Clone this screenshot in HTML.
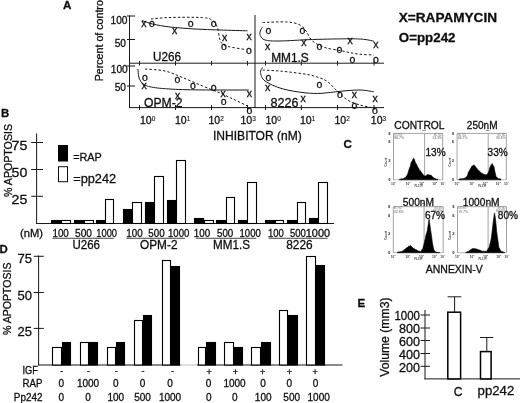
<!DOCTYPE html>
<html><head><meta charset="utf-8"><title>Figure</title>
<style>html,body{margin:0;padding:0;background:#fff}svg{display:block}</style></head>
<body>
<svg width="520" height="403" viewBox="0 0 520 403" font-family='"Liberation Sans", sans-serif'>
<rect width="520" height="403" fill="#fff"/>
<defs><filter id="soft" x="0" y="0" width="520" height="403" filterUnits="userSpaceOnUse"><feGaussianBlur stdDeviation="0.32"/></filter></defs>
<g filter="url(#soft)">
<text x="63.1" y="9.4" font-size="11.6" font-weight="bold" fill="#111" stroke="#111" stroke-width="0.3">A</text>
<text transform="translate(102.6 81.3) scale(1.0 1) rotate(-90)" font-size="10.6" textLength="83.5" lengthAdjust="spacingAndGlyphs" fill="#111" stroke="#111" stroke-width="0.3">Percent of control</text>
<line x1="129.5" y1="15.5" x2="129.5" y2="108" stroke="#1a1a1a" stroke-width="1"/>
<line x1="129.5" y1="63.2" x2="384" y2="63.2" stroke="#1a1a1a" stroke-width="1"/>
<line x1="129.5" y1="107.6" x2="384" y2="107.6" stroke="#1a1a1a" stroke-width="1"/>
<line x1="255" y1="15" x2="255" y2="108" stroke="#1a1a1a" stroke-width="1"/>
<line x1="127" y1="16" x2="135" y2="16" stroke="#1a1a1a" stroke-width="1"/>
<line x1="127" y1="39.5" x2="135" y2="39.5" stroke="#1a1a1a" stroke-width="1"/>
<line x1="127" y1="66" x2="135" y2="66" stroke="#1a1a1a" stroke-width="1"/>
<line x1="127" y1="86" x2="135" y2="86" stroke="#1a1a1a" stroke-width="1"/>
<line x1="139.5" y1="61" x2="139.5" y2="65.5" stroke="#1a1a1a" stroke-width="1"/>
<line x1="139.5" y1="105" x2="139.5" y2="110" stroke="#1a1a1a" stroke-width="1"/>
<line x1="175.5" y1="61" x2="175.5" y2="65.5" stroke="#1a1a1a" stroke-width="1"/>
<line x1="175.5" y1="105" x2="175.5" y2="110" stroke="#1a1a1a" stroke-width="1"/>
<line x1="211.5" y1="61" x2="211.5" y2="65.5" stroke="#1a1a1a" stroke-width="1"/>
<line x1="211.5" y1="105" x2="211.5" y2="110" stroke="#1a1a1a" stroke-width="1"/>
<line x1="247.5" y1="61" x2="247.5" y2="65.5" stroke="#1a1a1a" stroke-width="1"/>
<line x1="247.5" y1="105" x2="247.5" y2="110" stroke="#1a1a1a" stroke-width="1"/>
<line x1="265.5" y1="61" x2="265.5" y2="65.5" stroke="#1a1a1a" stroke-width="1"/>
<line x1="265.5" y1="105" x2="265.5" y2="110" stroke="#1a1a1a" stroke-width="1"/>
<line x1="301.3" y1="61" x2="301.3" y2="65.5" stroke="#1a1a1a" stroke-width="1"/>
<line x1="301.3" y1="105" x2="301.3" y2="110" stroke="#1a1a1a" stroke-width="1"/>
<line x1="337.5" y1="61" x2="337.5" y2="65.5" stroke="#1a1a1a" stroke-width="1"/>
<line x1="337.5" y1="105" x2="337.5" y2="110" stroke="#1a1a1a" stroke-width="1"/>
<line x1="374" y1="61" x2="374" y2="65.5" stroke="#1a1a1a" stroke-width="1"/>
<line x1="374" y1="105" x2="374" y2="110" stroke="#1a1a1a" stroke-width="1"/>
<text x="127.5" y="24" font-size="10.5" text-anchor="end" textLength="17" lengthAdjust="spacingAndGlyphs" fill="#111" stroke="#111" stroke-width="0.3">100</text>
<text x="126" y="46.9" font-size="10.5" text-anchor="end" textLength="11.3" lengthAdjust="spacingAndGlyphs" fill="#111" stroke="#111" stroke-width="0.3">50</text>
<text x="127.8" y="72.8" font-size="10.5" text-anchor="end" textLength="17" lengthAdjust="spacingAndGlyphs" fill="#111" stroke="#111" stroke-width="0.3">100</text>
<text x="126" y="91.3" font-size="10.5" text-anchor="end" textLength="11.3" lengthAdjust="spacingAndGlyphs" fill="#111" stroke="#111" stroke-width="0.3">50</text>
<text x="140.0" y="124.3" font-size="10.5" fill="#111" stroke="#111" stroke-width="0.3">10<tspan font-size="6.5" dy="-2.9" stroke-width="0.1">0</tspan></text>
<text x="175.0" y="124.3" font-size="10.5" fill="#111" stroke="#111" stroke-width="0.3">10<tspan font-size="6.5" dy="-2.9" stroke-width="0.1">1</tspan></text>
<text x="208.5" y="124.3" font-size="10.5" fill="#111" stroke="#111" stroke-width="0.3">10<tspan font-size="6.5" dy="-2.9" stroke-width="0.1">2</tspan></text>
<text x="240.5" y="124.3" font-size="10.5" fill="#111" stroke="#111" stroke-width="0.3">10<tspan font-size="6.5" dy="-2.9" stroke-width="0.1">3</tspan></text>
<text x="265.5" y="124.3" font-size="10.5" fill="#111" stroke="#111" stroke-width="0.3">10<tspan font-size="6.5" dy="-2.9" stroke-width="0.1">0</tspan></text>
<text x="300.0" y="124.3" font-size="10.5" fill="#111" stroke="#111" stroke-width="0.3">10<tspan font-size="6.5" dy="-2.9" stroke-width="0.1">1</tspan></text>
<text x="334.5" y="124.3" font-size="10.5" fill="#111" stroke="#111" stroke-width="0.3">10<tspan font-size="6.5" dy="-2.9" stroke-width="0.1">2</tspan></text>
<text x="370.8" y="124.3" font-size="10.5" fill="#111" stroke="#111" stroke-width="0.3">10<tspan font-size="6.5" dy="-2.9" stroke-width="0.1">3</tspan></text>
<text x="213" y="139.7" font-size="12" textLength="88.8" lengthAdjust="spacingAndGlyphs" fill="#111" stroke="#111" stroke-width="0.3">INHIBITOR (nM)</text>
<text x="153" y="61.3" font-size="12" textLength="28" lengthAdjust="spacingAndGlyphs" fill="#111" stroke="#111" stroke-width="0.3">U266</text>
<text x="144" y="107.3" font-size="12" textLength="38.5" lengthAdjust="spacingAndGlyphs" fill="#111" stroke="#111" stroke-width="0.3">OPM-2</text>
<text x="271.2" y="61.7" font-size="12" textLength="37.6" lengthAdjust="spacingAndGlyphs" fill="#111" stroke="#111" stroke-width="0.3">MM1.S</text>
<text x="270.5" y="107.3" font-size="12" textLength="28" lengthAdjust="spacingAndGlyphs" fill="#111" stroke="#111" stroke-width="0.3">8226</text>
<path d="M142 20.5 C143.75 21.08 147.83 22.92 152.5 24 C157.17 25.08 162.92 26.17 170 27 C177.08 27.83 186.67 28.50 195 29 C203.33 29.50 211.25 29.70 220 30 C228.75 30.30 242.92 30.67 247.5 30.8" fill="none" stroke="#1a1a1a" stroke-width="1"/>
<path d="M151 19 C154.17 18.75 161.42 17.73 170 17.5 C178.58 17.27 195.42 17.10 202.5 17.6 C209.58 18.10 210.00 18.85 212.5 20.5 C215.00 22.15 216.33 24.58 217.5 27.5 C218.67 30.42 218.75 35.33 219.5 38 C220.25 40.67 220.58 42.08 222 43.5 C223.42 44.92 224.17 45.50 228 46.5 C231.83 47.50 242.17 49.00 245 49.5" fill="none" stroke="#1a1a1a" stroke-width="1" stroke-dasharray="2.5 2"/>
<text x="143.75" y="27.05" font-size="10.5" text-anchor="middle" fill="#111" stroke="#111" stroke-width="0.3">x</text>
<text x="174.5" y="33.8" font-size="10.5" text-anchor="middle" fill="#111" stroke="#111" stroke-width="0.3">x</text>
<text x="224.5" y="41.3" font-size="10.5" text-anchor="middle" fill="#111" stroke="#111" stroke-width="0.3">x</text>
<text x="249" y="40.3" font-size="10.5" text-anchor="middle" fill="#111" stroke="#111" stroke-width="0.3">x</text>
<text x="152" y="27.05" font-size="10.5" text-anchor="middle" fill="#111" stroke="#111" stroke-width="0.3">o</text>
<text x="190.75" y="27.3" font-size="10.5" text-anchor="middle" fill="#111" stroke="#111" stroke-width="0.3">o</text>
<text x="213.75" y="27.3" font-size="10.5" text-anchor="middle" fill="#111" stroke="#111" stroke-width="0.3">o</text>
<text x="224" y="49.8" font-size="10.5" text-anchor="middle" fill="#111" stroke="#111" stroke-width="0.3">o</text>
<text x="249" y="54.3" font-size="10.5" text-anchor="middle" fill="#111" stroke="#111" stroke-width="0.3">o</text>
<path d="M138 69 C138.10 70.17 138.18 74.00 138.6 76 C139.02 78.00 139.43 79.47 140.5 81 C141.57 82.53 142.17 84.03 145 85.2 C147.83 86.37 151.25 87.27 157.5 88 C163.75 88.73 172.92 89.27 182.5 89.6 C192.08 89.93 203.95 89.93 215 90 C226.05 90.07 243.17 90.00 248.8 90" fill="none" stroke="#1a1a1a" stroke-width="1"/>
<path d="M145 69 C148.33 69.33 158.75 69.58 165 71 C171.25 72.42 176.25 75.00 182.5 77.5 C188.75 80.00 196.25 83.42 202.5 86 C208.75 88.58 214.58 90.67 220 93 C225.42 95.33 230.42 97.83 235 100 C239.58 102.17 245.42 105.00 247.5 106" fill="none" stroke="#1a1a1a" stroke-width="1" stroke-dasharray="2.5 2"/>
<text x="144" y="89.3" font-size="10.5" text-anchor="middle" fill="#111" stroke="#111" stroke-width="0.3">x</text>
<text x="177.5" y="99.3" font-size="10.5" text-anchor="middle" fill="#111" stroke="#111" stroke-width="0.3">x</text>
<text x="223" y="96.6" font-size="10.5" text-anchor="middle" fill="#111" stroke="#111" stroke-width="0.3">x</text>
<text x="249.3" y="97.1" font-size="10.5" text-anchor="middle" fill="#111" stroke="#111" stroke-width="0.3">x</text>
<text x="145" y="81.3" font-size="10.5" text-anchor="middle" fill="#111" stroke="#111" stroke-width="0.3">o</text>
<text x="177.5" y="83.3" font-size="10.5" text-anchor="middle" fill="#111" stroke="#111" stroke-width="0.3">o</text>
<text x="193" y="88.8" font-size="10.5" text-anchor="middle" fill="#111" stroke="#111" stroke-width="0.3">o</text>
<text x="213.75" y="90.8" font-size="10.5" text-anchor="middle" fill="#111" stroke="#111" stroke-width="0.3">o</text>
<text x="223.75" y="104.6" font-size="10.5" text-anchor="middle" fill="#111" stroke="#111" stroke-width="0.3">o</text>
<text x="249.5" y="113.8" font-size="10.5" text-anchor="middle" fill="#111" stroke="#111" stroke-width="0.3">o</text>
<path d="M262.5 27 C262.13 27.67 260.67 29.58 260.3 31 C259.93 32.42 259.52 34.00 260.3 35.5 C261.08 37.00 261.72 39.08 265 40 C268.28 40.92 272.08 41.08 280 41 C287.92 40.92 300.83 39.87 312.5 39.5 C324.17 39.13 341.25 38.80 350 38.8 C358.75 38.80 361.03 39.10 365 39.5 C368.97 39.90 372.33 40.92 373.8 41.2" fill="none" stroke="#1a1a1a" stroke-width="1"/>
<path d="M262.5 22.5 C266.67 22.42 281.25 21.58 287.5 22 C293.75 22.42 296.92 23.50 300 25 C303.08 26.50 303.92 28.33 306 31 C308.08 33.67 309.33 38.25 312.5 41 C315.67 43.75 320.00 45.83 325 47.5 C330.00 49.17 337.08 49.92 342.5 51 C347.92 52.08 352.28 53.33 357.5 54 C362.72 54.67 371.08 54.83 373.8 55" fill="none" stroke="#1a1a1a" stroke-width="1" stroke-dasharray="2.5 2"/>
<text x="267.5" y="50.099999999999994" font-size="10.5" text-anchor="middle" fill="#111" stroke="#111" stroke-width="0.3">x</text>
<text x="303.8" y="45.8" font-size="10.5" text-anchor="middle" fill="#111" stroke="#111" stroke-width="0.3">x</text>
<text x="350" y="43.8" font-size="10.5" text-anchor="middle" fill="#111" stroke="#111" stroke-width="0.3">x</text>
<text x="375.8" y="48.3" font-size="10.5" text-anchor="middle" fill="#111" stroke="#111" stroke-width="0.3">x</text>
<text x="268.3" y="33.8" font-size="10.5" text-anchor="middle" fill="#111" stroke="#111" stroke-width="0.3">o</text>
<text x="302.5" y="33.8" font-size="10.5" text-anchor="middle" fill="#111" stroke="#111" stroke-width="0.3">o</text>
<text x="319.5" y="50.099999999999994" font-size="10.5" text-anchor="middle" fill="#111" stroke="#111" stroke-width="0.3">o</text>
<text x="339.5" y="52.8" font-size="10.5" text-anchor="middle" fill="#111" stroke="#111" stroke-width="0.3">o</text>
<text x="352.5" y="62.599999999999994" font-size="10.5" text-anchor="middle" fill="#111" stroke="#111" stroke-width="0.3">o</text>
<text x="375.8" y="63.3" font-size="10.5" text-anchor="middle" fill="#111" stroke="#111" stroke-width="0.3">o</text>
<path d="M262.5 67.5 C262.17 68.33 260.08 70.25 260.5 72.5 C260.92 74.75 261.33 78.28 265 81 C268.67 83.72 275.83 86.83 282.5 88.8 C289.17 90.77 298.42 92.05 305 92.8 C311.58 93.55 316.17 93.55 322 93.3 C327.83 93.05 333.67 91.85 340 91.3 C346.33 90.75 354.37 89.92 360 90 C365.63 90.08 371.50 91.50 373.8 91.8" fill="none" stroke="#1a1a1a" stroke-width="1"/>
<path d="M262.5 70 C265.83 70.22 275.00 70.55 282.5 71.3 C290.00 72.05 301.25 73.38 307.5 74.5 C313.75 75.62 316.58 76.75 320 78 C323.42 79.25 325.08 79.78 328 82 C330.92 84.22 334.25 88.30 337.5 91.3 C340.75 94.30 343.75 97.72 347.5 100 C351.25 102.28 355.62 103.67 360 105 C364.38 106.33 371.50 107.50 373.8 108" fill="none" stroke="#1a1a1a" stroke-width="1" stroke-dasharray="2.5 2"/>
<text x="267.5" y="90.8" font-size="10.5" text-anchor="middle" fill="#111" stroke="#111" stroke-width="0.3">x</text>
<text x="303" y="102.1" font-size="10.5" text-anchor="middle" fill="#111" stroke="#111" stroke-width="0.3">x</text>
<text x="354.3" y="97.6" font-size="10.5" text-anchor="middle" fill="#111" stroke="#111" stroke-width="0.3">x</text>
<text x="375" y="102.1" font-size="10.5" text-anchor="middle" fill="#111" stroke="#111" stroke-width="0.3">x</text>
<text x="268.5" y="81.3" font-size="10.5" text-anchor="middle" fill="#111" stroke="#111" stroke-width="0.3">o</text>
<text x="319.3" y="87.8" font-size="10.5" text-anchor="middle" fill="#111" stroke="#111" stroke-width="0.3">o</text>
<text x="340" y="98.3" font-size="10.5" text-anchor="middle" fill="#111" stroke="#111" stroke-width="0.3">o</text>
<text x="354.3" y="109.1" font-size="10.5" text-anchor="middle" fill="#111" stroke="#111" stroke-width="0.3">o</text>
<text x="375" y="114.1" font-size="10.5" text-anchor="middle" fill="#111" stroke="#111" stroke-width="0.3">o</text>
<text x="398.8" y="22.2" font-size="12.5" font-weight="bold" textLength="98.2" lengthAdjust="spacingAndGlyphs" fill="#111" stroke="#111" stroke-width="0.3">X=RAPAMYCIN</text>
<text x="398.8" y="42.2" font-size="13" font-weight="bold" textLength="56.7" lengthAdjust="spacingAndGlyphs" fill="#111" stroke="#111" stroke-width="0.3">O=pp242</text>
<text x="0.9" y="117" font-size="11.4" font-weight="bold" fill="#111" stroke="#111" stroke-width="0.3">B</text>
<text transform="translate(11.6 197) scale(1.0 1) rotate(-90)" font-size="10.6" textLength="73" lengthAdjust="spacingAndGlyphs" fill="#111" stroke="#111" stroke-width="0.3">% APOPTOSIS</text>
<line x1="36.6" y1="133.5" x2="36.6" y2="224" stroke="#1a1a1a" stroke-width="1"/>
<line x1="36.1" y1="223.5" x2="334" y2="223.5" stroke="#1a1a1a" stroke-width="1"/>
<line x1="31.2" y1="142.5" x2="43" y2="142.5" stroke="#1a1a1a" stroke-width="1"/>
<line x1="31.2" y1="169.5" x2="43" y2="169.5" stroke="#1a1a1a" stroke-width="1"/>
<line x1="31.2" y1="196.3" x2="43" y2="196.3" stroke="#1a1a1a" stroke-width="1"/>
<text x="27.4" y="149.7" font-size="12.6" text-anchor="end" textLength="15.8" lengthAdjust="spacingAndGlyphs" fill="#111" stroke="#111" stroke-width="0.3">75</text>
<text x="27.4" y="176.8" font-size="12.6" text-anchor="end" textLength="15.8" lengthAdjust="spacingAndGlyphs" fill="#111" stroke="#111" stroke-width="0.3">50</text>
<text x="27.4" y="203.8" font-size="12.6" text-anchor="end" textLength="15.8" lengthAdjust="spacingAndGlyphs" fill="#111" stroke="#111" stroke-width="0.3">25</text>
<rect x="58.5" y="145.5" width="9" height="15.5" fill="#000" stroke="#000" stroke-width="1"/>
<rect x="58.5" y="166.7" width="9" height="15" fill="#fff" stroke="#111" stroke-width="1"/>
<text x="73.2" y="161.2" font-size="10" textLength="28.6" lengthAdjust="spacingAndGlyphs" fill="#111" stroke="#111" stroke-width="0.3">=RAP</text>
<text x="73.2" y="182.5" font-size="13" textLength="43" lengthAdjust="spacingAndGlyphs" fill="#111" stroke="#111" stroke-width="0.3">=pp242</text>
<rect x="51.5" y="220.5" width="9" height="3.0" fill="#000" stroke="#000" stroke-width="1.1"/>
<rect x="61.5" y="220.5" width="9" height="3.0" fill="#fff" stroke="#000" stroke-width="1.1"/>
<rect x="74.5" y="220.5" width="9" height="3.0" fill="#000" stroke="#000" stroke-width="1.1"/>
<rect x="84.5" y="220.5" width="9" height="3.0" fill="#fff" stroke="#000" stroke-width="1.1"/>
<rect x="96.5" y="220.5" width="8" height="3.0" fill="#000" stroke="#000" stroke-width="1.1"/>
<rect x="105.5" y="199.5" width="8" height="24.0" fill="#fff" stroke="#000" stroke-width="1.1"/>
<rect x="123.5" y="209.5" width="8" height="14.0" fill="#000" stroke="#000" stroke-width="1.1"/>
<rect x="132.5" y="202.5" width="9" height="21.0" fill="#fff" stroke="#000" stroke-width="1.1"/>
<rect x="145.5" y="202.5" width="8" height="21.0" fill="#000" stroke="#000" stroke-width="1.1"/>
<rect x="154.5" y="176.5" width="9" height="47.0" fill="#fff" stroke="#000" stroke-width="1.1"/>
<rect x="167.5" y="200.5" width="8" height="23.0" fill="#000" stroke="#000" stroke-width="1.1"/>
<rect x="176.5" y="160.5" width="9" height="63.0" fill="#fff" stroke="#000" stroke-width="1.1"/>
<rect x="194.5" y="218.5" width="9" height="5.0" fill="#000" stroke="#000" stroke-width="1.1"/>
<rect x="204.5" y="220.5" width="9" height="3.0" fill="#fff" stroke="#000" stroke-width="1.1"/>
<rect x="216.5" y="220.5" width="9" height="3.0" fill="#000" stroke="#000" stroke-width="1.1"/>
<rect x="226.5" y="197.5" width="8" height="26.0" fill="#fff" stroke="#000" stroke-width="1.1"/>
<rect x="238.5" y="220.5" width="8" height="3.0" fill="#000" stroke="#000" stroke-width="1.1"/>
<rect x="247.5" y="182.5" width="9" height="41.0" fill="#fff" stroke="#000" stroke-width="1.1"/>
<rect x="265.5" y="220.5" width="9" height="3.0" fill="#000" stroke="#000" stroke-width="1.1"/>
<rect x="275.5" y="220.5" width="8" height="3.0" fill="#fff" stroke="#000" stroke-width="1.1"/>
<rect x="287.5" y="220.5" width="9" height="3.0" fill="#000" stroke="#000" stroke-width="1.1"/>
<rect x="297.5" y="202.5" width="8" height="21.0" fill="#fff" stroke="#000" stroke-width="1.1"/>
<rect x="309.5" y="218.5" width="8" height="5.0" fill="#000" stroke="#000" stroke-width="1.1"/>
<rect x="318.5" y="182.5" width="9" height="41.0" fill="#fff" stroke="#000" stroke-width="1.1"/>
<text x="20" y="237.2" font-size="11" textLength="23" lengthAdjust="spacingAndGlyphs" fill="#111" stroke="#111" stroke-width="0.3">(nM)</text>
<text x="52.5" y="237" font-size="10" textLength="16.3" lengthAdjust="spacingAndGlyphs" fill="#111" stroke="#111" stroke-width="0.3">100</text>
<text x="75" y="237" font-size="10" textLength="17" lengthAdjust="spacingAndGlyphs" fill="#111" stroke="#111" stroke-width="0.3">500</text>
<text x="96.3" y="237" font-size="10" textLength="20.7" lengthAdjust="spacingAndGlyphs" fill="#111" stroke="#111" stroke-width="0.3">1000</text>
<text x="126.3" y="237" font-size="10" textLength="16.3" lengthAdjust="spacingAndGlyphs" fill="#111" stroke="#111" stroke-width="0.3">100</text>
<text x="148.3" y="237" font-size="10" textLength="16.3" lengthAdjust="spacingAndGlyphs" fill="#111" stroke="#111" stroke-width="0.3">500</text>
<text x="168" y="237" font-size="10" textLength="21.3" lengthAdjust="spacingAndGlyphs" fill="#111" stroke="#111" stroke-width="0.3">1000</text>
<text x="193.8" y="237" font-size="10" textLength="16.3" lengthAdjust="spacingAndGlyphs" fill="#111" stroke="#111" stroke-width="0.3">100</text>
<text x="217" y="237" font-size="10" textLength="16.3" lengthAdjust="spacingAndGlyphs" fill="#111" stroke="#111" stroke-width="0.3">500</text>
<text x="239.5" y="237" font-size="10" textLength="21.3" lengthAdjust="spacingAndGlyphs" fill="#111" stroke="#111" stroke-width="0.3">1000</text>
<text x="268" y="237" font-size="10" textLength="15.8" lengthAdjust="spacingAndGlyphs" fill="#111" stroke="#111" stroke-width="0.3">100</text>
<text x="290" y="237" font-size="10" textLength="15.8" lengthAdjust="spacingAndGlyphs" fill="#111" stroke="#111" stroke-width="0.3">500</text>
<text x="305.8" y="237" font-size="10" textLength="24.2" lengthAdjust="spacingAndGlyphs" fill="#111" stroke="#111" stroke-width="0.3">1000</text>
<line x1="52.5" y1="238.3" x2="113.8" y2="238.3" stroke="#1a1a1a" stroke-width="0.8"/>
<line x1="126.3" y1="238.3" x2="185" y2="238.3" stroke="#1a1a1a" stroke-width="0.8"/>
<line x1="196.3" y1="238.3" x2="256.3" y2="238.3" stroke="#1a1a1a" stroke-width="0.8"/>
<line x1="268.8" y1="238.3" x2="327.5" y2="238.3" stroke="#1a1a1a" stroke-width="0.8"/>
<text x="72.5" y="248.8" font-size="12" textLength="27.5" lengthAdjust="spacingAndGlyphs" fill="#111" stroke="#111" stroke-width="0.3">U266</text>
<text x="140" y="248.8" font-size="12" textLength="37.5" lengthAdjust="spacingAndGlyphs" fill="#111" stroke="#111" stroke-width="0.3">OPM-2</text>
<text x="213" y="248.8" font-size="12" textLength="37" lengthAdjust="spacingAndGlyphs" fill="#111" stroke="#111" stroke-width="0.3">MM1.S</text>
<text x="286.3" y="248.8" font-size="12" textLength="26.3" lengthAdjust="spacingAndGlyphs" fill="#111" stroke="#111" stroke-width="0.3">8226</text>
<text x="343.6" y="147.9" font-size="11.6" font-weight="bold" fill="#111" stroke="#111" stroke-width="0.3">C</text>
<text x="394.3" y="128.6" font-size="10.5" textLength="50.2" lengthAdjust="spacingAndGlyphs" fill="#111" stroke="#111" stroke-width="0.3">CONTROL</text>
<text x="466.8" y="128.6" font-size="10.5" textLength="30.7" lengthAdjust="spacingAndGlyphs" fill="#111" stroke="#111" stroke-width="0.3">250nM</text>
<text x="402.8" y="205.6" font-size="10.5" textLength="31.2" lengthAdjust="spacingAndGlyphs" fill="#111" stroke="#111" stroke-width="0.3">500nM</text>
<text x="462.8" y="205.6" font-size="10.5" textLength="36.7" lengthAdjust="spacingAndGlyphs" fill="#111" stroke="#111" stroke-width="0.3">1000nM</text>
<text x="425.8" y="273.2" font-size="10.5" textLength="57" lengthAdjust="spacingAndGlyphs" fill="#111" stroke="#111" stroke-width="0.3">ANNEXIN-V</text>
<line x1="393.5" y1="133.4" x2="442.7" y2="133.4" stroke="#9a9a9a" stroke-width="0.9"/>
<line x1="393.5" y1="133.4" x2="393.5" y2="180" stroke="#9a9a9a" stroke-width="0.9"/>
<line x1="442.7" y1="133.4" x2="442.7" y2="180" stroke="#9a9a9a" stroke-width="0.9"/>
<line x1="424.6" y1="133.4" x2="424.6" y2="180" stroke="#9a9a9a" stroke-width="0.9"/>
<line x1="393.5" y1="179.8" x2="442.7" y2="179.8" stroke="#888" stroke-width="0.6"/>
<path d="M399.50 179.20 L400.20 179.13 L400.90 178.97 L401.60 178.87 L402.30 178.83 L403.00 178.70 L403.62 178.38 L404.25 178.06 L404.88 177.69 L405.50 177.40 L406.20 176.24 L406.90 175.58 L407.60 174.30 L408.60 170.80 L409.80 167.20 L410.40 166.34 L411.00 162.85 L411.60 161.80 L412.50 160.18 L413.40 158.20 L414.10 158.66 L414.80 160.60 L415.50 163.32 L416.20 163.60 L417.40 166.30 L418.00 167.43 L418.60 168.02 L419.20 169.40 L419.80 170.65 L420.40 170.68 L421.00 172.10 L421.80 172.68 L422.60 174.00 L423.35 175.12 L424.10 175.60 L424.75 176.05 L425.40 176.00 L426.10 175.58 L426.80 175.20 L427.45 174.50 L428.10 174.40 L428.73 174.65 L429.37 174.93 L430.00 174.90 L430.85 175.35 L431.70 175.70 L432.43 176.64 L433.17 177.26 L433.90 177.90 L434.63 178.31 L435.37 178.70 L436.10 179.10 L436.73 179.18 L437.37 179.25 L438.00 179.30 L438.00 179.8 L399.50 179.8 Z" fill="#000" stroke="#000" stroke-width="0.6" stroke-linejoin="round"/>
<text x="425.5" y="155.8" font-size="10" textLength="20.2" lengthAdjust="spacingAndGlyphs" fill="#111" stroke="#111" stroke-width="0.3">13%</text>
<text x="394.3" y="136.1" font-size="2.6" fill="#777" stroke="#777" stroke-width="0">M1 M2</text>
<text x="394.3" y="139.20000000000002" font-size="3.4" fill="#5a5a5a" stroke="#5a5a5a" stroke-width="0">86.7%</text>
<text x="441.9" y="136.0" font-size="2.6" text-anchor="end" fill="#777" stroke="#777" stroke-width="0">M1 M2</text>
<text x="441.9" y="138.9" font-size="3.4" text-anchor="end" fill="#5a5a5a" stroke="#5a5a5a" stroke-width="0">13.3%</text>
<text x="422.40000000000003" y="130.9" font-size="2.4" font-weight="bold" fill="#333" stroke="#333" stroke-width="0">M1</text>
<text x="390.3" y="134.70000000000002" font-size="3.4" text-anchor="end" font-weight="bold" fill="#444" stroke="#444" stroke-width="0.15">8</text>
<text x="390.3" y="143.4" font-size="3.4" text-anchor="end" font-weight="bold" fill="#444" stroke="#444" stroke-width="0.15">6</text>
<text x="390.3" y="162.0" font-size="3.4" text-anchor="end" font-weight="bold" fill="#444" stroke="#444" stroke-width="0.15">2</text>
<text x="390.3" y="180.6" font-size="3.4" text-anchor="end" font-weight="bold" fill="#444" stroke="#444" stroke-width="0.15">0</text>
<text transform="translate(387.3 166.4) rotate(-90)" font-size="3" fill="#444" font-weight="bold">Count</text>
<text x="393.5" y="184.6" font-size="3.2" text-anchor="middle" fill="#444" font-weight="bold">10<tspan font-size="2.4" dy="-1.2">0</tspan></text>
<text x="408.1" y="184.6" font-size="3.2" text-anchor="middle" fill="#444" font-weight="bold">10<tspan font-size="2.4" dy="-1.2">1</tspan></text>
<text x="421.7" y="184.6" font-size="3.2" text-anchor="middle" fill="#444" font-weight="bold">10<tspan font-size="2.4" dy="-1.2">2</tspan></text>
<text x="434.7" y="184.6" font-size="3.2" text-anchor="middle" fill="#444" font-weight="bold">10<tspan font-size="2.4" dy="-1.2">3</tspan></text>
<text x="442.9" y="184.6" font-size="3.2" text-anchor="middle" fill="#444" font-weight="bold">10<tspan font-size="2.4" dy="-1.2">4</tspan></text>
<text x="418.5" y="187.4" font-size="2.8" text-anchor="middle" font-weight="bold" fill="#444" stroke="#444" stroke-width="0">FL1-H</text>
<line x1="457.1" y1="133.4" x2="506.3" y2="133.4" stroke="#9a9a9a" stroke-width="0.9"/>
<line x1="457.1" y1="133.4" x2="457.1" y2="180" stroke="#9a9a9a" stroke-width="0.9"/>
<line x1="506.3" y1="133.4" x2="506.3" y2="180" stroke="#9a9a9a" stroke-width="0.9"/>
<line x1="488.2" y1="133.4" x2="488.2" y2="180" stroke="#9a9a9a" stroke-width="0.9"/>
<line x1="457.1" y1="179.8" x2="506.3" y2="179.8" stroke="#888" stroke-width="0.6"/>
<path d="M459.00 179.00 L459.62 178.90 L460.25 178.83 L460.88 178.86 L461.50 178.80 L462.12 178.64 L462.75 178.59 L463.38 178.54 L464.00 178.50 L464.60 178.14 L465.20 177.67 L465.80 177.27 L466.40 176.87 L467.00 176.50 L467.75 174.51 L468.50 172.00 L469.12 171.08 L469.75 170.14 L470.38 168.67 L471.00 168.00 L471.60 166.48 L472.20 165.85 L472.80 166.00 L474.00 164.80 L475.00 166.00 L476.00 167.50 L476.60 168.03 L477.20 168.78 L477.80 169.63 L478.40 170.53 L479.00 170.50 L479.60 171.66 L480.20 171.74 L480.80 172.49 L481.40 173.01 L482.00 173.50 L482.62 173.43 L483.25 173.98 L483.88 174.20 L484.50 174.50 L485.10 174.63 L485.70 174.73 L486.30 174.45 L486.90 174.53 L487.50 174.20 L488.25 172.59 L489.00 171.00 L489.75 167.73 L490.50 166.00 L491.35 164.39 L492.20 163.50 L493.00 165.41 L493.80 166.00 L495.00 172.00 L496.00 176.50 L496.67 177.03 L497.33 177.76 L498.00 178.50 L498.60 178.59 L499.20 178.69 L499.80 178.83 L500.40 178.95 L501.00 179.10 L501.00 179.8 L459.00 179.8 Z" fill="#000" stroke="#000" stroke-width="0.6" stroke-linejoin="round"/>
<text x="487.6" y="156" font-size="10" textLength="20.2" lengthAdjust="spacingAndGlyphs" fill="#111" stroke="#111" stroke-width="0.3">33%</text>
<text x="457.90000000000003" y="136.1" font-size="2.6" fill="#777" stroke="#777" stroke-width="0">M1 M2</text>
<text x="457.90000000000003" y="139.20000000000002" font-size="3.4" fill="#5a5a5a" stroke="#5a5a5a" stroke-width="0">66.7%</text>
<text x="505.5" y="136.0" font-size="2.6" text-anchor="end" fill="#777" stroke="#777" stroke-width="0">M1 M2</text>
<text x="505.5" y="138.9" font-size="3.4" text-anchor="end" fill="#5a5a5a" stroke="#5a5a5a" stroke-width="0">33.3%</text>
<text x="486.0" y="130.9" font-size="2.4" font-weight="bold" fill="#333" stroke="#333" stroke-width="0">M1</text>
<text x="453.90000000000003" y="134.70000000000002" font-size="3.4" text-anchor="end" font-weight="bold" fill="#444" stroke="#444" stroke-width="0.15">8</text>
<text x="453.90000000000003" y="143.4" font-size="3.4" text-anchor="end" font-weight="bold" fill="#444" stroke="#444" stroke-width="0.15">6</text>
<text x="453.90000000000003" y="162.0" font-size="3.4" text-anchor="end" font-weight="bold" fill="#444" stroke="#444" stroke-width="0.15">2</text>
<text x="453.90000000000003" y="180.6" font-size="3.4" text-anchor="end" font-weight="bold" fill="#444" stroke="#444" stroke-width="0.15">0</text>
<text transform="translate(450.90000000000003 166.4) rotate(-90)" font-size="3" fill="#444" font-weight="bold">Count</text>
<text x="457.1" y="184.6" font-size="3.2" text-anchor="middle" fill="#444" font-weight="bold">10<tspan font-size="2.4" dy="-1.2">0</tspan></text>
<text x="471.7" y="184.6" font-size="3.2" text-anchor="middle" fill="#444" font-weight="bold">10<tspan font-size="2.4" dy="-1.2">1</tspan></text>
<text x="485.3" y="184.6" font-size="3.2" text-anchor="middle" fill="#444" font-weight="bold">10<tspan font-size="2.4" dy="-1.2">2</tspan></text>
<text x="498.3" y="184.6" font-size="3.2" text-anchor="middle" fill="#444" font-weight="bold">10<tspan font-size="2.4" dy="-1.2">3</tspan></text>
<text x="506.5" y="184.6" font-size="3.2" text-anchor="middle" fill="#444" font-weight="bold">10<tspan font-size="2.4" dy="-1.2">4</tspan></text>
<text x="482.1" y="187.4" font-size="2.8" text-anchor="middle" font-weight="bold" fill="#444" stroke="#444" stroke-width="0">FL1-H</text>
<line x1="393.3" y1="206.7" x2="443.2" y2="206.7" stroke="#9a9a9a" stroke-width="0.9"/>
<line x1="393.3" y1="206.7" x2="393.3" y2="252.9" stroke="#9a9a9a" stroke-width="0.9"/>
<line x1="443.2" y1="206.7" x2="443.2" y2="252.9" stroke="#9a9a9a" stroke-width="0.9"/>
<line x1="424.1" y1="206.7" x2="424.1" y2="252.9" stroke="#9a9a9a" stroke-width="0.9"/>
<line x1="393.3" y1="252.70000000000002" x2="443.2" y2="252.70000000000002" stroke="#888" stroke-width="0.6"/>
<path d="M397.20 252.40 L397.82 252.26 L398.45 252.10 L399.07 251.96 L399.70 251.79 L400.32 251.64 L400.95 251.56 L401.57 251.43 L402.20 251.20 L402.80 250.68 L403.40 250.41 L404.00 250.00 L404.60 249.26 L405.20 249.05 L405.80 248.60 L406.53 247.79 L407.27 247.42 L408.00 246.80 L408.70 246.21 L409.40 246.19 L410.10 245.40 L410.73 245.81 L411.37 246.16 L412.00 247.00 L412.85 247.78 L413.70 248.60 L414.30 248.76 L414.90 249.09 L415.50 249.64 L416.10 249.63 L416.70 249.98 L417.30 250.30 L417.94 250.63 L418.58 250.97 L419.22 251.07 L419.86 251.42 L420.50 251.70 L421.27 250.61 L422.03 249.48 L422.80 248.60 L424.00 244.00 L424.65 240.91 L425.30 238.50 L426.00 234.64 L426.70 233.06 L427.40 229.90 L428.30 224.00 L429.10 219.10 L429.80 224.00 L430.60 229.90 L431.50 235.67 L432.40 242.80 L433.15 246.45 L433.90 250.00 L434.60 250.63 L435.30 251.41 L436.00 252.20 L436.60 252.26 L437.20 252.31 L437.80 252.36 L438.40 252.39 L439.00 252.45 L439.60 252.50 L439.60 252.70000000000002 L397.20 252.70000000000002 Z" fill="#000" stroke="#000" stroke-width="0.6" stroke-linejoin="round"/>
<text x="424.9" y="219.2" font-size="10" textLength="20.2" lengthAdjust="spacingAndGlyphs" fill="#111" stroke="#111" stroke-width="0.3">67%</text>
<text x="394.1" y="209.39999999999998" font-size="2.6" fill="#777" stroke="#777" stroke-width="0">M1 M2</text>
<text x="394.1" y="212.5" font-size="3.4" fill="#5a5a5a" stroke="#5a5a5a" stroke-width="0">32.8%</text>
<text x="442.4" y="209.29999999999998" font-size="2.6" text-anchor="end" fill="#777" stroke="#777" stroke-width="0">M1 M2</text>
<text x="442.4" y="212.2" font-size="3.4" text-anchor="end" fill="#5a5a5a" stroke="#5a5a5a" stroke-width="0">67.2%</text>
<text x="421.90000000000003" y="204.2" font-size="2.4" font-weight="bold" fill="#333" stroke="#333" stroke-width="0">M1</text>
<text x="390.1" y="208.0" font-size="3.4" text-anchor="end" font-weight="bold" fill="#444" stroke="#444" stroke-width="0.15">8</text>
<text x="390.1" y="216.7" font-size="3.4" text-anchor="end" font-weight="bold" fill="#444" stroke="#444" stroke-width="0.15">6</text>
<text x="390.1" y="235.29999999999998" font-size="3.4" text-anchor="end" font-weight="bold" fill="#444" stroke="#444" stroke-width="0.15">2</text>
<text x="390.1" y="253.5" font-size="3.4" text-anchor="end" font-weight="bold" fill="#444" stroke="#444" stroke-width="0.15">0</text>
<text transform="translate(387.1 239.7) rotate(-90)" font-size="3" fill="#444" font-weight="bold">Count</text>
<text x="393.3" y="257.5" font-size="3.2" text-anchor="middle" fill="#444" font-weight="bold">10<tspan font-size="2.4" dy="-1.2">0</tspan></text>
<text x="407.9" y="257.5" font-size="3.2" text-anchor="middle" fill="#444" font-weight="bold">10<tspan font-size="2.4" dy="-1.2">1</tspan></text>
<text x="421.5" y="257.5" font-size="3.2" text-anchor="middle" fill="#444" font-weight="bold">10<tspan font-size="2.4" dy="-1.2">2</tspan></text>
<text x="434.5" y="257.5" font-size="3.2" text-anchor="middle" fill="#444" font-weight="bold">10<tspan font-size="2.4" dy="-1.2">3</tspan></text>
<text x="442.7" y="257.5" font-size="3.2" text-anchor="middle" fill="#444" font-weight="bold">10<tspan font-size="2.4" dy="-1.2">4</tspan></text>
<text x="418.3" y="260.3" font-size="2.8" text-anchor="middle" font-weight="bold" fill="#444" stroke="#444" stroke-width="0">FL1-H</text>
<line x1="457.5" y1="206.7" x2="506.5" y2="206.7" stroke="#9a9a9a" stroke-width="0.9"/>
<line x1="457.5" y1="206.7" x2="457.5" y2="252.9" stroke="#9a9a9a" stroke-width="0.9"/>
<line x1="506.5" y1="206.7" x2="506.5" y2="252.9" stroke="#9a9a9a" stroke-width="0.9"/>
<line x1="488.1" y1="206.7" x2="488.1" y2="252.9" stroke="#9a9a9a" stroke-width="0.9"/>
<line x1="457.5" y1="252.70000000000002" x2="506.5" y2="252.70000000000002" stroke="#888" stroke-width="0.6"/>
<path d="M465.70 252.40 L466.30 252.15 L466.90 251.90 L467.50 251.61 L468.10 251.39 L468.70 251.15 L469.30 250.80 L470.03 250.30 L470.77 249.57 L471.50 249.20 L472.20 248.78 L472.90 248.52 L473.60 248.40 L474.40 248.69 L475.20 248.65 L476.00 248.80 L476.63 249.11 L477.27 249.35 L477.90 249.40 L478.53 249.81 L479.16 250.02 L479.79 250.03 L480.41 250.33 L481.04 250.61 L481.67 250.88 L482.30 251.20 L482.91 251.26 L483.53 251.23 L484.14 251.18 L484.76 251.16 L485.37 251.14 L485.99 251.13 L486.60 251.20 L487.25 250.33 L487.90 249.15 L488.55 248.10 L489.20 247.20 L489.87 244.33 L490.53 241.96 L491.20 238.60 L492.00 232.18 L492.80 225.60 L493.70 218.00 L494.50 212.90 L495.20 217.00 L495.90 222.70 L496.65 231.20 L497.40 237.10 L498.10 241.52 L498.80 247.20 L499.53 248.37 L500.27 249.92 L501.00 251.30 L501.60 251.51 L502.20 251.62 L502.80 251.84 L503.40 252.01 L504.00 252.20 L504.60 252.40 L504.60 252.70000000000002 L465.70 252.70000000000002 Z" fill="#000" stroke="#000" stroke-width="0.6" stroke-linejoin="round"/>
<text x="497.8" y="219.2" font-size="10" textLength="20.2" lengthAdjust="spacingAndGlyphs" fill="#111" stroke="#111" stroke-width="0.3">80%</text>
<text x="458.3" y="209.39999999999998" font-size="2.6" fill="#777" stroke="#777" stroke-width="0">M1 M2</text>
<text x="458.3" y="212.5" font-size="3.4" fill="#5a5a5a" stroke="#5a5a5a" stroke-width="0">19.7%</text>
<text x="505.7" y="209.29999999999998" font-size="2.6" text-anchor="end" fill="#777" stroke="#777" stroke-width="0">M1 M2</text>
<text x="505.7" y="212.2" font-size="3.4" text-anchor="end" fill="#5a5a5a" stroke="#5a5a5a" stroke-width="0">80.3%</text>
<text x="485.90000000000003" y="204.2" font-size="2.4" font-weight="bold" fill="#333" stroke="#333" stroke-width="0">M1</text>
<text x="454.3" y="208.0" font-size="3.4" text-anchor="end" font-weight="bold" fill="#444" stroke="#444" stroke-width="0.15">8</text>
<text x="454.3" y="216.7" font-size="3.4" text-anchor="end" font-weight="bold" fill="#444" stroke="#444" stroke-width="0.15">6</text>
<text x="454.3" y="235.29999999999998" font-size="3.4" text-anchor="end" font-weight="bold" fill="#444" stroke="#444" stroke-width="0.15">2</text>
<text x="454.3" y="253.5" font-size="3.4" text-anchor="end" font-weight="bold" fill="#444" stroke="#444" stroke-width="0.15">0</text>
<text transform="translate(451.3 239.7) rotate(-90)" font-size="3" fill="#444" font-weight="bold">Count</text>
<text x="457.5" y="257.5" font-size="3.2" text-anchor="middle" fill="#444" font-weight="bold">10<tspan font-size="2.4" dy="-1.2">0</tspan></text>
<text x="472.1" y="257.5" font-size="3.2" text-anchor="middle" fill="#444" font-weight="bold">10<tspan font-size="2.4" dy="-1.2">1</tspan></text>
<text x="485.7" y="257.5" font-size="3.2" text-anchor="middle" fill="#444" font-weight="bold">10<tspan font-size="2.4" dy="-1.2">2</tspan></text>
<text x="498.7" y="257.5" font-size="3.2" text-anchor="middle" fill="#444" font-weight="bold">10<tspan font-size="2.4" dy="-1.2">3</tspan></text>
<text x="506.9" y="257.5" font-size="3.2" text-anchor="middle" fill="#444" font-weight="bold">10<tspan font-size="2.4" dy="-1.2">4</tspan></text>
<text x="482.5" y="260.3" font-size="2.8" text-anchor="middle" font-weight="bold" fill="#444" stroke="#444" stroke-width="0">FL1-H</text>
<text x="-0.4" y="252.5" font-size="11.4" font-weight="bold" fill="#111" stroke="#111" stroke-width="0.3">D</text>
<text transform="translate(11.3 335) scale(1.0 1) rotate(-90)" font-size="10.5" textLength="72.5" lengthAdjust="spacingAndGlyphs" fill="#111" stroke="#111" stroke-width="0.3">% APOPTOSIS</text>
<line x1="38.6" y1="255.5" x2="38.6" y2="365.5" stroke="#1a1a1a" stroke-width="1"/>
<line x1="38.1" y1="365" x2="180.5" y2="365" stroke="#1a1a1a" stroke-width="1"/>
<line x1="180.5" y1="365" x2="197" y2="365" stroke="#999" stroke-width="0.6"/>
<line x1="197" y1="365" x2="342.5" y2="365" stroke="#1a1a1a" stroke-width="1"/>
<line x1="33.7" y1="256.3" x2="43.8" y2="256.3" stroke="#1a1a1a" stroke-width="1"/>
<line x1="33.7" y1="292.5" x2="43.8" y2="292.5" stroke="#1a1a1a" stroke-width="1"/>
<line x1="33.7" y1="328.4" x2="43.8" y2="328.4" stroke="#1a1a1a" stroke-width="1"/>
<text x="32" y="263.3" font-size="13" text-anchor="end" textLength="14.5" lengthAdjust="spacingAndGlyphs" fill="#111" stroke="#111" stroke-width="0.3">75</text>
<text x="32" y="299.5" font-size="13" text-anchor="end" textLength="14.5" lengthAdjust="spacingAndGlyphs" fill="#111" stroke="#111" stroke-width="0.3">50</text>
<text x="32" y="335.8" font-size="13" text-anchor="end" textLength="14.5" lengthAdjust="spacingAndGlyphs" fill="#111" stroke="#111" stroke-width="0.3">25</text>
<rect x="52.5" y="347.5" width="9" height="17.5" fill="#fff" stroke="#000" stroke-width="1.1"/>
<rect x="62.5" y="342.5" width="8" height="22.5" fill="#000" stroke="#000" stroke-width="1.1"/>
<rect x="80.5" y="342.5" width="8" height="22.5" fill="#fff" stroke="#000" stroke-width="1.1"/>
<rect x="89.5" y="342.5" width="8" height="22.5" fill="#000" stroke="#000" stroke-width="1.1"/>
<rect x="107.5" y="347.5" width="8" height="17.5" fill="#fff" stroke="#000" stroke-width="1.1"/>
<rect x="116.5" y="342.5" width="8" height="22.5" fill="#000" stroke="#000" stroke-width="1.1"/>
<rect x="134.5" y="320.5" width="8" height="44.5" fill="#fff" stroke="#000" stroke-width="1.1"/>
<rect x="143.5" y="315.5" width="8" height="49.5" fill="#000" stroke="#000" stroke-width="1.1"/>
<rect x="162.5" y="260.5" width="8" height="104.5" fill="#fff" stroke="#000" stroke-width="1.1"/>
<rect x="171.5" y="266.5" width="8" height="98.5" fill="#000" stroke="#000" stroke-width="1.1"/>
<rect x="198.5" y="347.5" width="7" height="17.5" fill="#fff" stroke="#000" stroke-width="1.1"/>
<rect x="206.5" y="342.5" width="9" height="22.5" fill="#000" stroke="#000" stroke-width="1.1"/>
<rect x="224.5" y="342.5" width="9" height="22.5" fill="#fff" stroke="#000" stroke-width="1.1"/>
<rect x="234.5" y="347.5" width="8" height="17.5" fill="#000" stroke="#000" stroke-width="1.1"/>
<rect x="251.5" y="347.5" width="9" height="17.5" fill="#fff" stroke="#000" stroke-width="1.1"/>
<rect x="261.5" y="342.5" width="9" height="22.5" fill="#000" stroke="#000" stroke-width="1.1"/>
<rect x="279.5" y="310.5" width="8" height="54.5" fill="#fff" stroke="#000" stroke-width="1.1"/>
<rect x="288.5" y="315.5" width="9" height="49.5" fill="#000" stroke="#000" stroke-width="1.1"/>
<rect x="306.5" y="256.5" width="9" height="108.5" fill="#fff" stroke="#000" stroke-width="1.1"/>
<rect x="316.5" y="265.5" width="8" height="99.5" fill="#000" stroke="#000" stroke-width="1.1"/>
<text x="22.5" y="373.8" font-size="10" textLength="15.5" lengthAdjust="spacingAndGlyphs" fill="#111" stroke="#111" stroke-width="0.3">IGF</text>
<text x="22.5" y="386.8" font-size="10" textLength="20" lengthAdjust="spacingAndGlyphs" fill="#111" stroke="#111" stroke-width="0.3">RAP</text>
<text x="13.8" y="400.5" font-size="10" textLength="28.7" lengthAdjust="spacingAndGlyphs" fill="#111" stroke="#111" stroke-width="0.3">Pp242</text>
<text x="61.8" y="373.6" font-size="9" text-anchor="middle" fill="#111" stroke="#111" stroke-width="0.3">-</text>
<text x="88.5" y="373.6" font-size="9" text-anchor="middle" fill="#111" stroke="#111" stroke-width="0.3">-</text>
<text x="116.3" y="373.6" font-size="9" text-anchor="middle" fill="#111" stroke="#111" stroke-width="0.3">-</text>
<text x="143.0" y="373.6" font-size="9" text-anchor="middle" fill="#111" stroke="#111" stroke-width="0.3">-</text>
<text x="172.5" y="373.6" font-size="9" text-anchor="middle" fill="#111" stroke="#111" stroke-width="0.3">-</text>
<text x="209.2" y="374.6" font-size="9" text-anchor="middle" fill="#111" stroke="#111" stroke-width="0.3">+</text>
<text x="235.5" y="374.6" font-size="9" text-anchor="middle" fill="#111" stroke="#111" stroke-width="0.3">+</text>
<text x="262.6" y="374.6" font-size="9" text-anchor="middle" fill="#111" stroke="#111" stroke-width="0.3">+</text>
<text x="289.3" y="374.6" font-size="9" text-anchor="middle" fill="#111" stroke="#111" stroke-width="0.3">+</text>
<text x="315.2" y="374.6" font-size="9" text-anchor="middle" fill="#111" stroke="#111" stroke-width="0.3">+</text>
<text x="61.3" y="386.9" font-size="10" text-anchor="middle" fill="#111" stroke="#111" stroke-width="0.3">0</text>
<text x="61.3" y="400.6" font-size="10" text-anchor="middle" fill="#111" stroke="#111" stroke-width="0.3">0</text>
<text x="88" y="386.9" font-size="10" text-anchor="middle" fill="#111" stroke="#111" stroke-width="0.3">1000</text>
<text x="88" y="400.6" font-size="10" text-anchor="middle" fill="#111" stroke="#111" stroke-width="0.3">0</text>
<text x="115.8" y="386.9" font-size="10" text-anchor="middle" fill="#111" stroke="#111" stroke-width="0.3">0</text>
<text x="115.8" y="400.6" font-size="10" text-anchor="middle" fill="#111" stroke="#111" stroke-width="0.3">100</text>
<text x="142.5" y="386.9" font-size="10" text-anchor="middle" fill="#111" stroke="#111" stroke-width="0.3">0</text>
<text x="142.5" y="400.6" font-size="10" text-anchor="middle" fill="#111" stroke="#111" stroke-width="0.3">500</text>
<text x="170" y="386.9" font-size="10" text-anchor="middle" fill="#111" stroke="#111" stroke-width="0.3">0</text>
<text x="170" y="400.6" font-size="10" text-anchor="middle" fill="#111" stroke="#111" stroke-width="0.3">1000</text>
<text x="208.5" y="386.9" font-size="10" text-anchor="middle" fill="#111" stroke="#111" stroke-width="0.3">0</text>
<text x="208.7" y="400.6" font-size="10" text-anchor="middle" fill="#111" stroke="#111" stroke-width="0.3">0</text>
<text x="234.5" y="386.9" font-size="10" text-anchor="middle" fill="#111" stroke="#111" stroke-width="0.3">1000</text>
<text x="234.7" y="400.6" font-size="10" text-anchor="middle" fill="#111" stroke="#111" stroke-width="0.3">0</text>
<text x="263" y="386.9" font-size="10" text-anchor="middle" fill="#111" stroke="#111" stroke-width="0.3">0</text>
<text x="263.2" y="400.6" font-size="10" text-anchor="middle" fill="#111" stroke="#111" stroke-width="0.3">100</text>
<text x="289.3" y="386.9" font-size="10" text-anchor="middle" fill="#111" stroke="#111" stroke-width="0.3">0</text>
<text x="291.7" y="400.6" font-size="10" text-anchor="middle" fill="#111" stroke="#111" stroke-width="0.3">500</text>
<text x="315.5" y="386.9" font-size="10" text-anchor="middle" fill="#111" stroke="#111" stroke-width="0.3">0</text>
<text x="318.7" y="400.6" font-size="10" text-anchor="middle" fill="#111" stroke="#111" stroke-width="0.3">1000</text>
<text x="357.4" y="306.8" font-size="11.5" font-weight="bold" fill="#111" stroke="#111" stroke-width="0.3">E</text>
<text transform="translate(388.8 376.8) scale(1.0 1) rotate(-90)" font-size="12" textLength="79.3" lengthAdjust="spacingAndGlyphs" fill="#111" stroke="#111" stroke-width="0.3">Volume (mm3)</text>
<line x1="425" y1="310" x2="425" y2="379.3" stroke="#1a1a1a" stroke-width="1"/>
<line x1="424.5" y1="378.9" x2="520" y2="378.9" stroke="#1a1a1a" stroke-width="1"/>
<line x1="420.5" y1="315" x2="430" y2="315" stroke="#1a1a1a" stroke-width="1"/>
<text x="420" y="320.4" font-size="12" text-anchor="end" textLength="25.5" lengthAdjust="spacingAndGlyphs" fill="#111" stroke="#111" stroke-width="0.3">1000</text>
<line x1="420.5" y1="328" x2="430" y2="328" stroke="#1a1a1a" stroke-width="1"/>
<text x="420" y="333.4" font-size="12" text-anchor="end" textLength="21" lengthAdjust="spacingAndGlyphs" fill="#111" stroke="#111" stroke-width="0.3">800</text>
<line x1="420.5" y1="340.5" x2="430" y2="340.5" stroke="#1a1a1a" stroke-width="1"/>
<text x="420" y="345.9" font-size="12" text-anchor="end" textLength="21" lengthAdjust="spacingAndGlyphs" fill="#111" stroke="#111" stroke-width="0.3">600</text>
<line x1="420.5" y1="353.5" x2="430" y2="353.5" stroke="#1a1a1a" stroke-width="1"/>
<text x="420" y="358.9" font-size="12" text-anchor="end" textLength="21" lengthAdjust="spacingAndGlyphs" fill="#111" stroke="#111" stroke-width="0.3">400</text>
<line x1="420.5" y1="366.3" x2="430" y2="366.3" stroke="#1a1a1a" stroke-width="1"/>
<text x="420" y="371.7" font-size="12" text-anchor="end" textLength="21" lengthAdjust="spacingAndGlyphs" fill="#111" stroke="#111" stroke-width="0.3">200</text>
<rect x="447.8" y="312.2" width="12.8" height="66.7" fill="#fff" stroke="#000" stroke-width="1.5"/>
<line x1="454.6" y1="296.8" x2="454.6" y2="312.5" stroke="#1a1a1a" stroke-width="1"/>
<line x1="447.6" y1="296.8" x2="461.3" y2="296.8" stroke="#1a1a1a" stroke-width="1"/>
<rect x="480.5" y="351.6" width="10.6" height="27.3" fill="#fff" stroke="#000" stroke-width="1.5"/>
<line x1="486.8" y1="337.5" x2="486.8" y2="351.5" stroke="#1a1a1a" stroke-width="1"/>
<line x1="480" y1="337.5" x2="493.3" y2="337.5" stroke="#1a1a1a" stroke-width="1"/>
<text x="453.7" y="395.5" font-size="12" textLength="8.8" lengthAdjust="spacingAndGlyphs" fill="#111" stroke="#111" stroke-width="0.3">C</text>
<text x="477.6" y="395.4" font-size="13" textLength="36.7" lengthAdjust="spacingAndGlyphs" fill="#111" stroke="#111" stroke-width="0.3">pp242</text>
</g>
</svg>
</body></html>
